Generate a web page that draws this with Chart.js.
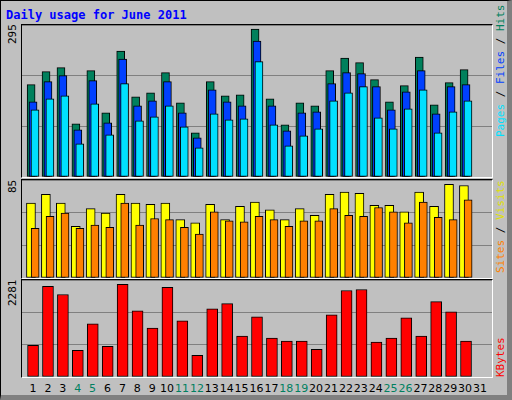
<!DOCTYPE html>
<html>
<head>
<meta charset="utf-8">
<script src="https://cdn.jsdelivr.net/npm/chart.js@4"></script>
<style>
body { margin: 0; width: 512px; height: 400px; background: #c0c0c0; font-family: "DejaVu Sans Mono", monospace; overflow: hidden; }
#frame { position: absolute; left: 0; top: 0; width: 506px; height: 394px; border: 1px solid #000; border-right: 5px solid #808080; border-bottom: 5px solid #808080; box-sizing: content-box; }
.panel { position: absolute; left: 21px; width: 470px; border-top: 1px solid #000; border-left: 1px solid #000; border-right: 1px solid #fff; border-bottom: 1px solid #fff; }
.panel canvas { display: block; }
.title { position: absolute; left: 6px; top: 8px; font-weight: bold; font-size: 12px; color: #0000ff; }
.rot { position: absolute; transform-origin: left top; transform: rotate(-90deg); font-size: 11px; white-space: nowrap; }
.day { position: absolute; top: 382px; width: 20px; text-align: center; font-family: "DejaVu Sans", sans-serif; font-size: 11px; }
</style>
</head>
<body>
<div id="frame"></div>
<div class="title">Daily usage for June 2011</div>
<div class="panel" style="top:24px;height:152px"><canvas id="c1"></canvas></div>
<div class="panel" style="top:179px;height:98px"><canvas id="c2"></canvas></div>
<div class="panel" style="top:279px;height:97px"><canvas id="c3"></canvas></div>
<div class="rot" style="left:6px;top:44px">295</div>
<div class="rot" style="left:6px;top:193px">85</div>
<div class="rot" style="left:6px;top:306px">2281</div>
<div class="rot" style="left:494px;top:137px"><span style="color:#00e0ff">Pages</span> / <span style="color:#0040ff">Files</span> / <span style="color:#00805c">Hits</span></div>
<div class="rot" style="left:494px;top:273px"><span style="color:#ff8000">Sites</span> / <span style="color:#e0e000">Visits</span></div>
<div class="rot" style="left:494px;top:377px"><span style="color:#ff0000">KBytes</span></div>
<div id="days"></div>
<script>
var days = [1,2,3,4,5,6,7,8,9,10,11,12,13,14,15,16,17,18,19,20,21,22,23,24,25,26,27,28,29,30];
var weekend = [4,5,11,12,18,19,25,26];
var hits = [184,210,218,106,212,128,251,160,168,208,148,88,190,162,164,295,156,104,148,142,212,237,228,194,150,182,239,144,188,214];
var files = [150,190,202,94,192,108,235,142,152,190,128,78,174,150,142,271,142,92,128,130,186,208,206,180,134,170,212,126,180,184];
var pages = [134,156,162,66,146,84,186,112,120,142,100,58,126,114,116,230,104,62,82,96,152,168,180,118,96,136,174,88,130,152];
var visits = [68,76,68,47,63,59,76,68,67,68,53,50,67,53,65,69,62,53,63,57,76,78,77,66,66,60,78,65,85,84];
var sites = [45,56,59,45,48,46,68,48,54,53,46,40,60,52,51,56,53,47,52,52,63,57,56,64,60,50,69,55,53,71];
var kbytes = [782,2230,2030,657,1306,757,2281,1631,1206,2205,1381,532,1681,1806,1007,1481,957,882,882,682,1531,2130,2155,857,957,1456,1007,1855,1606,882];

// day labels along the bottom
var dl = document.getElementById("days");
for (var d = 1; d <= 31; d++) {
    var e = document.createElement("div");
    e.className = "day";
    e.style.left = (23 + (d - 1) * 14.9) + "px";
    e.style.color = weekend.indexOf(d) >= 0 ? "#008060" : "#000";
    e.textContent = d;
    dl.appendChild(e);
}

function pts(arr) {
    return arr.map(function (v, i) { return { x: days[i], y: v }; });
}

function xAxis(shift) {
    return { type: "linear", display: false, min: 0.26 - shift, max: 31.74 - shift, offset: false };
}

function bars(data, color, axis, width) {
    return { data: pts(data), backgroundColor: color, borderColor: "#000", borderWidth: 1,
        borderSkipped: false, xAxisID: axis, barThickness: width, grouped: false };
}

function createPanel(id, datasets, shifts, ymax) {
    var scales = {
        y: { min: 0, max: ymax, ticks: { display: false, stepSize: ymax / 3 },
             grid: { color: "#808080", drawTicks: false }, border: { display: false } }
    };
    shifts.forEach(function (s, i) { scales["x" + i] = xAxis(s); });
    return new Chart(document.getElementById(id), {
        type: "bar",
        data: { datasets: datasets },
        options: {
            responsive: true,
            maintainAspectRatio: false,
            animation: false,
            layout: { padding: 0 },
            plugins: { legend: { display: false }, tooltip: { enabled: false } },
            scales: scales
        }
    });
}

createPanel("c1", [
    bars(pages, "#00e0ff", "x2", 8),
    bars(files, "#0040ff", "x1", 8),
    bars(hits, "#00805c", "x0", 8)
], [-0.13, 0, 0.13], 303);

createPanel("c2", [
    bars(sites, "#ff8000", "x1", 8),
    bars(visits, "#ffff00", "x0", 9)
], [-0.14, 0.14], 89);

createPanel("c3", [
    bars(kbytes, "#ff0000", "x0", 11)
], [0], 2388);
</script>
</body>
</html>
